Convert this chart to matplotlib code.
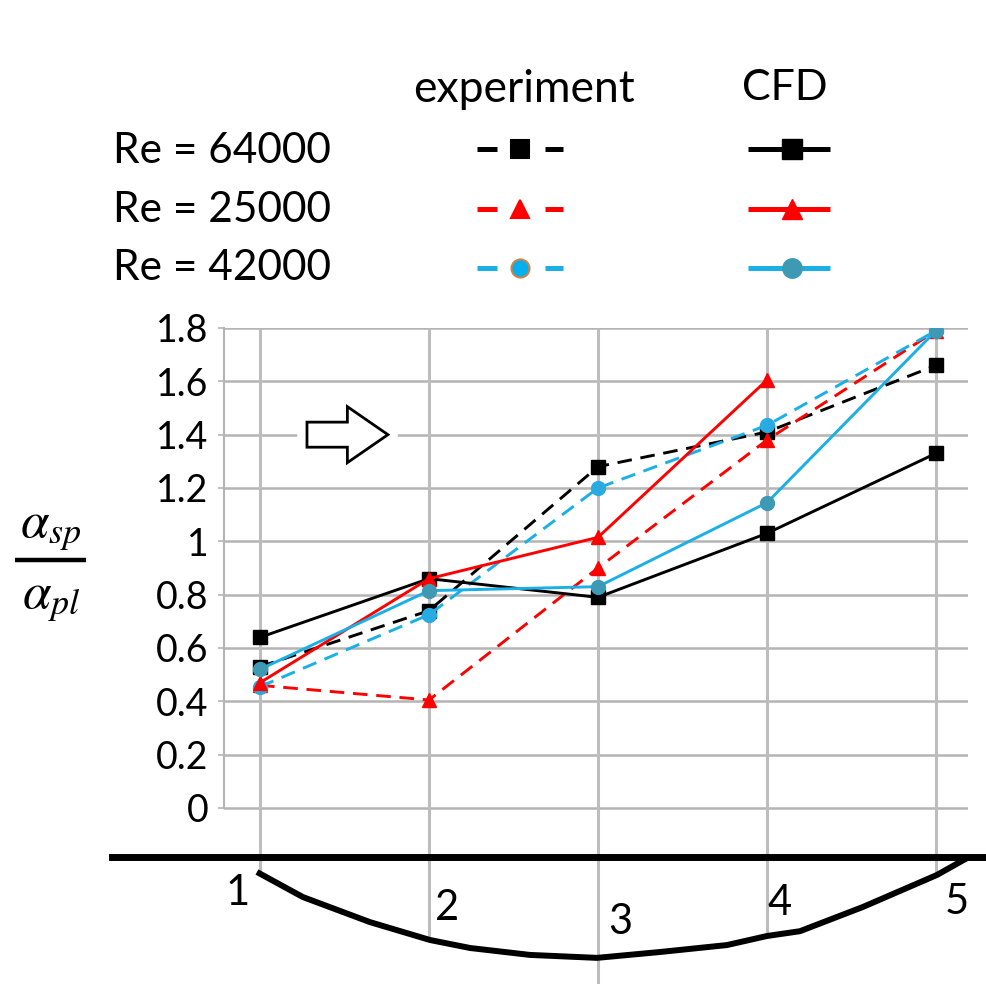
import numpy as np
import matplotlib.pyplot as plt
from matplotlib.patches import FancyArrow

plt.rcParams['font.family'] = ['Lato', 'DejaVu Sans']
plt.rcParams['mathtext.fontset'] = 'stix'

# datos: alpha_sp / alpha_pl en las estaciones 1..5
estaciones = [1, 2, 3, 4, 5]
exp_64000 = [0.53, 0.74, 1.28, 1.41, 1.66]
exp_25000 = [0.46, 0.405, 0.90, 1.38, 1.79]
exp_42000 = [0.455, 0.725, 1.20, 1.435, 1.79]
cfd_64000 = [0.64, 0.86, 0.79, 1.03, 1.33]
cfd_25000 = [0.47, 0.86, 1.015, 1.605]          # sin punto en la estacion 5
cfd_42000 = [0.52, 0.815, 0.83, 1.145, 1.79]
etiquetas_re = ['Re = 64000', 'Re = 25000', 'Re = 42000']

# perfil del alabe (x en estaciones, profundidad)
perfil_x = [0.982, 1.254, 1.651, 2.006, 2.243, 2.598, 2.994, 3.367, 3.763, 4.0, 4.195, 4.568, 5.006, 5.183]
perfil_y = [-0.240, -0.334, -0.428, -0.495, -0.525, -0.551, -0.562, -0.540, -0.514, -0.480, -0.462, -0.371, -0.251, -0.188]

negro = 'black'
rojo = '#FF0000'
azul = '#1AAFE6'
azul_cfd_mk = '#3E9AB4'

fig = plt.figure(figsize=(9.87, 9.84), dpi=100)
ax = fig.add_axes([224 / 987, 0, (968 - 224) / 987, 1 - 328 / 984])
ax.set_xlim(1 - 36 / 169, 1 + 708 / 169)
ax.set_ylim(-0.66, 1.8)

# rejilla horizontal
ax.set_yticks(np.arange(0, 1.81, 0.2))
ax.set_yticklabels(['0', '0.2', '0.4', '0.6', '0.8', '1', '1.2', '1.4', '1.6', '1.8'])
ax.grid(axis='y', color='#B4B4B4', lw=1.8)
ax.set_axisbelow(True)
ax.set_xticks([])
ax.tick_params(axis='y', length=4, width=1.2, color='#B4B4B4', pad=7, labelsize=27)
for s in ['top', 'right', 'bottom']:
    ax.spines[s].set_visible(False)
ax.spines['left'].set_bounds(0, 1.8)
ax.spines['left'].set_color('#B4B4B4')
ax.spines['left'].set_linewidth(1.5)

# lineas verticales de las estaciones hasta el perfil
fondo = np.interp(estaciones, perfil_x, perfil_y)
fondo[2] = -0.66
ax.vlines(estaciones, fondo, 1.8, color='#BDBDBD', lw=2.2, zorder=0.8)

# perfil y linea base
ax.plot(perfil_x, perfil_y, color='black', lw=4.3, solid_capstyle='butt',
        solid_joinstyle='round', zorder=3)
ax.plot([0.124, 5.35], [-0.184, -0.184], color='black', lw=5, clip_on=False, zorder=3)
for i, (dx, dy) in enumerate([(-0.13, -0.319), (0.107, -0.375), (0.13, -0.428), (0.077, -0.356), (0.124, -0.353)]):
    ax.text(estaciones[i] + dx, dy, str(estaciones[i]), fontsize=30, ha='center', va='center', zorder=4)

# flecha
ax.plot([1.237, 1.80], [1.4, 1.4], color='white', lw=4, zorder=1)
ax.add_patch(FancyArrow(1.278, 1.4, 0.479, 0, width=0.094, head_width=0.21, head_length=0.24,
                        length_includes_head=True, fc='white', ec='black', lw=2, zorder=2))

# series
dash = (5, 3)
ax.plot(estaciones, exp_64000, color=negro, lw=2.1, dashes=dash, marker='s', ms=10, zorder=5)
ax.plot(estaciones, exp_25000, color=rojo, lw=2.1, dashes=dash, marker='^', ms=10, zorder=5)
ax.plot(estaciones, exp_42000, color=azul, lw=2.1, dashes=dash, marker='o', ms=10,
        mfc='#29ABE2', mec='#29ABE2', zorder=5)
ax.plot(estaciones, cfd_64000, color=negro, lw=2.1, marker='s', ms=10, zorder=6)
ax.plot(estaciones[:4], cfd_25000, color=rojo, lw=2.1, marker='^', ms=10, zorder=6)
ax.plot(estaciones, cfd_42000, color=azul, lw=2.1, marker='o', ms=10,
        mfc=azul_cfd_mk, mec=azul_cfd_mk, zorder=6)

# capa superior en pixeles para leyenda y etiqueta del eje
ov = fig.add_axes([0, 0, 1, 1])
ov.set_xlim(0, 987)
ov.set_ylim(984, 0)
ov.axis('off')

ov.text(524, 102, 'experiment', fontsize=32, ha='center', va='baseline')
ov.text(785, 100, 'CFD', fontsize=31, ha='center', va='baseline')
filas = [149, 209, 268]
bases = [163, 222, 280]
estilos = [(negro, negro, negro, 's'), (rojo, rojo, rojo, '^'), (azul, '#00B0F0', azul_cfd_mk, 'o')]
for k in range(3):
    ov.text(113, bases[k], etiquetas_re[k], fontsize=30.5, ha='left', va='baseline')
    c, mexp, mcfd, mk = estilos[k]
    y = filas[k]
    ov.plot([477, 497], [y, y], color=c, lw=3.6, solid_capstyle='butt')
    ov.plot([545, 563], [y, y], color=c, lw=3.6, solid_capstyle='butt')
    ov.plot([520], [y], marker=mk, ms=13, mfc=mexp, mec='#C8844A' if k == 2 else mexp, mew=1.5)
    ov.plot([748, 830], [y, y], color=c, lw=3.6, solid_capstyle='butt')
    ov.plot([792], [y], marker=mk, ms=14, mfc=mcfd, mec=mcfd)

# etiqueta del eje y como fraccion
ov.text(51, 537, r'$\alpha_{sp}$', fontsize=37, ha='center', va='baseline')
ov.plot([15, 86], [560, 560], color='black', lw=3.2, solid_capstyle='butt')
ov.text(51, 608, r'$\alpha_{pl}$', fontsize=37, ha='center', va='baseline')

fig.savefig('out.png', dpi=100, facecolor='white')
